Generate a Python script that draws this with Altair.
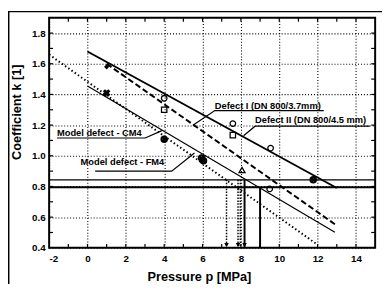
import altair as alt
import pandas as pd

# ---------------- data ----------------
x_major = [-2, 0, 2, 4, 6, 8, 10, 12, 14]
y_major = [0.4, 0.6, 0.8, 1.0, 1.2, 1.4, 1.6, 1.8]
x_minor = [-1, 0, 1, 2, 3, 4, 5, 6, 7, 8, 9, 10, 11, 12, 13, 14]
y_minor = [0.5, 0.6, 0.7, 0.8, 0.9, 1.0, 1.1, 1.2, 1.3, 1.4, 1.5, 1.6, 1.7, 1.8]

defect1_p = [0, 13]
defect1_k = [1.68, 0.79]
defect2_p = [1, 13]
defect2_k = [1.60, 0.545]
cm4_p = [0, 12.9]
cm4_k = [1.455, 0.502]
fm4_p = [-2, 12]
fm4_k = [1.66, 0.42]

open_circle_p = [4, 7.58, 9.55, 9.5]
open_circle_k = [1.375, 1.21, 1.05, 0.784]
open_square_p = [4, 7.58]
open_square_k = [1.30, 1.135]
triangle_p = [8.06]
triangle_k = [0.907]
ring_p = [4, 5.95, 6.05, 11.77]
ring_k = [1.108, 0.985, 0.968, 0.843]
xmark_p = [1]
xmark_k = [1.41]
diamond_p = [1]
diamond_k = [1.58]

limit_thin_k = [0.843]
limit_thick_k = [0.795]
drop_dot_p = [7.25, 7.85, 7.97]
drop_dot_top = [0.843, 0.843, 0.843]
drop_solid_p = [8.19, 9.0]
drop_solid_top = [0.843, 0.795]
arrow_p = [7.25, 7.85, 8.19]
arrow_k = [0.418, 0.418, 0.418]

label_text = ["Defect I (DN 800/3.7mm)", "Defect II (DN 800/4.5 mm)",
              "Model defect - CM4", "Model defect - FM4"]
label_p = [6.64, 8.74, -1.59, -0.36]
label_k = [1.322, 1.232, 1.147, 0.958]

# leader polylines: underline end -> underline start -> pointer
leader_id = ["d1", "d1", "d1", "d2", "d2", "d2", "c", "c", "c", "f", "f", "f"]
leader_ord = [0, 1, 2, 0, 1, 2, 0, 1, 2, 0, 1, 2]
leader_p = [12.32, 6.64, 5.50, 14.72, 8.74, 8.14, -1.59, 3.01, 3.88, 0.40, 4.39, 5.58]
leader_k = [1.295, 1.295, 1.199, 1.193, 1.193, 1.131, 1.116, 1.116, 1.164, 0.900, 0.900, 1.018]

# ---------------- chart ----------------
FONT = "Liberation Sans"
xs = alt.Scale(domain=[-2, 15], nice=False, zero=False)
ys = alt.Scale(domain=[0.4, 1.9], nice=False, zero=False)

AX = alt.Axis(
    values=x_major, grid=True, gridDash=[1, 2], gridColor="black", gridWidth=1.1,
    ticks=False, domain=False, labelFont=FONT, labelFontWeight="bold",
    labelFontSize=10, labelPadding=6, labelColor="black",
    labelExpr="replace(datum.label, '\u2212', '-')",
    title="Pressure p [MPa]", titleFont=FONT, titleFontWeight="bold",
    titleFontSize=13, titleColor="black", titleX=153, titleY=29,
    titleBaseline="middle")
AY = alt.Axis(
    values=y_major, format=".1f", grid=True, gridDash=[1, 2], gridColor="black",
    gridWidth=1.1, ticks=False, domain=False, labelFont=FONT, labelFontWeight="bold",
    labelFontSize=10, labelPadding=4, labelColor="black",
    title="Coefficient k [1]", titleFont=FONT, titleFontWeight="bold",
    titleFontSize=13, titleColor="black", titleX=-33, titleY=96,
    titleAngle=-90, titleBaseline="middle")


def X(f="p"):
    return alt.X(f, type="quantitative", scale=xs, axis=AX)


def Y(f="k"):
    return alt.Y(f, type="quantitative", scale=ys, axis=AY)


def line_df(p, k):
    return pd.DataFrame({"p": p, "k": k})


# inward ticks on all four sides
xt = pd.DataFrame({"p": x_minor})
yt = pd.DataFrame({"k": y_minor})
tick_bottom = alt.Chart(xt).mark_rule(color="black", strokeWidth=1.2).encode(
    x=X(), y=alt.value(235), y2=alt.value(231))
tick_top = alt.Chart(xt).mark_rule(color="black", strokeWidth=1.2).encode(
    x=X(), y=alt.value(0), y2=alt.value(4))
tick_left = alt.Chart(yt).mark_rule(color="black", strokeWidth=1.2).encode(
    y=Y(), x=alt.value(0), x2=alt.value(4))
tick_right = alt.Chart(yt).mark_rule(color="black", strokeWidth=1.2).encode(
    y=Y(), x=alt.value(333), x2=alt.value(329))

l_def1 = alt.Chart(line_df(defect1_p, defect1_k)).mark_line(
    color="black", strokeWidth=2).encode(x=X(), y=Y())
l_def2 = alt.Chart(line_df(defect2_p, defect2_k)).mark_line(
    color="black", strokeWidth=2, strokeDash=[6, 3]).encode(x=X(), y=Y())
l_cm4 = alt.Chart(line_df(cm4_p, cm4_k)).mark_line(
    color="black", strokeWidth=1.2).encode(x=X(), y=Y())
l_fm4 = alt.Chart(line_df(fm4_p, fm4_k)).mark_line(
    color="black", strokeWidth=2, strokeDash=[1.5, 2.5]).encode(x=X(), y=Y())

h_thin = alt.Chart(pd.DataFrame({"k": limit_thin_k})).mark_rule(
    color="black", strokeWidth=1.2).encode(y=Y())
h_thick = alt.Chart(pd.DataFrame({"k": limit_thick_k})).mark_rule(
    color="black", strokeWidth=2.2).encode(y=Y())

v_dot = alt.Chart(pd.DataFrame({"p": drop_dot_p, "k": drop_dot_top, "b": [0.4] * 3})).mark_rule(
    color="black", strokeWidth=1.5, strokeDash=[1.5, 1.5]).encode(x=X(), y=Y(), y2="b:Q")
v_solid = alt.Chart(pd.DataFrame({"p": drop_solid_p, "k": drop_solid_top, "b": [0.4] * 2})).mark_rule(
    color="black", strokeWidth=2).encode(x=X(), y=Y(), y2="b:Q")
arrows = alt.Chart(line_df(arrow_p, arrow_k)).mark_point(
    shape="triangle-down", filled=True, color="black", size=22, opacity=1).encode(x=X(), y=Y())

m_circle = alt.Chart(line_df(open_circle_p, open_circle_k)).mark_point(
    shape="circle", filled=False, color="black", size=32, strokeWidth=1.3, opacity=1).encode(x=X(), y=Y())
m_square = alt.Chart(line_df(open_square_p, open_square_k)).mark_point(
    shape="square", filled=False, color="black", size=30, strokeWidth=1.3, opacity=1).encode(x=X(), y=Y())
m_tri = alt.Chart(line_df(triangle_p, triangle_k)).mark_point(
    shape="triangle-up", filled=False, color="black", size=38, strokeWidth=1.3, opacity=1).encode(x=X(), y=Y())
m_ring = alt.Chart(line_df(ring_p, ring_k)).mark_point(
    shape="circle", filled=False, color="black", size=32, strokeWidth=2, opacity=1).encode(x=X(), y=Y())
m_ringx = alt.Chart(line_df(ring_p, ring_k)).mark_point(
    shape="cross", filled=True, color="black", size=26, angle=45, opacity=1).encode(x=X(), y=Y())
m_x = alt.Chart(line_df(xmark_p, xmark_k)).mark_point(
    shape="cross", filled=True, color="black", size=60, angle=45, opacity=1).encode(x=X(), y=Y())
m_dia = alt.Chart(line_df(diamond_p, diamond_k)).mark_point(
    shape="diamond", filled=True, color="black", size=28, opacity=1).encode(x=X(), y=Y())

leaders = alt.Chart(pd.DataFrame({"id": leader_id, "o": leader_ord, "p": leader_p, "k": leader_k})).mark_line(
    color="black", strokeWidth=1.2).encode(x=X(), y=Y(), detail="id:N", order="o:Q")
labels = alt.Chart(pd.DataFrame({"p": label_p, "k": label_k, "t": label_text})).mark_text(
    align="left", baseline="middle", font=FONT, fontWeight="bold", fontSize=9.5,
    color="black").encode(x=X(), y=Y(), text="t:N")

frame = alt.Chart(pd.DataFrame({"a": [0]})).mark_rect(
    fill=None, stroke="black", strokeWidth=1.5, clip=False).encode(
    x=alt.value(-41.25), x2=alt.value(345), y=alt.value(-6.25), y2=alt.value(300))

chart = alt.layer(
    tick_bottom, tick_top, tick_left, tick_right,
    h_thin, h_thick, v_dot, v_solid, arrows,
    l_fm4, l_cm4, l_def2, l_def1,
    leaders, labels,
    m_circle, m_square, m_tri, m_ring, m_ringx, m_x, m_dia,
    frame,
).properties(
    width=333, height=235,
    autosize=alt.AutoSizeParams(type="none"),
    padding={"left": 42, "top": 7, "right": 7, "bottom": 34},
    background="white",
).configure_view(stroke="black", strokeWidth=2)

chart.save("out.html", embed_options={"renderer": "svg", "actions": False})
